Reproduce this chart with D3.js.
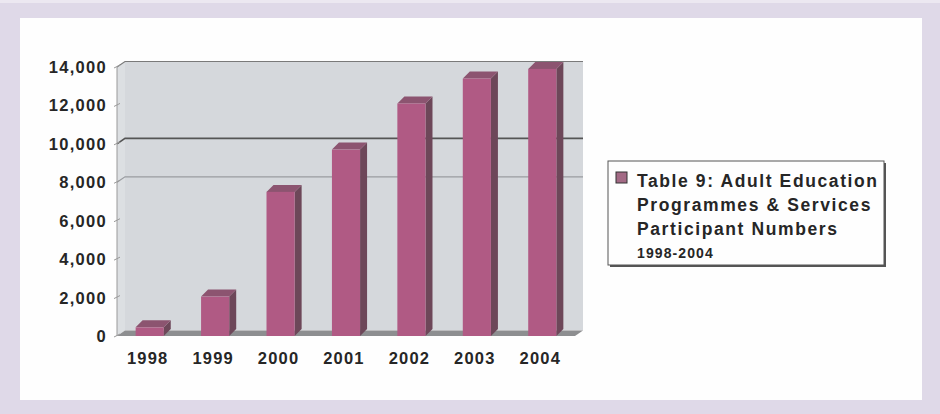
<!DOCTYPE html>
<html>
<head>
<meta charset="utf-8">
<script src="https://cdn.jsdelivr.net/npm/d3@7"></script>
<style>
  html, body { margin: 0; padding: 0; background: #dfd9e8; }
  svg { display: block; }
  text { font-family: "Liberation Sans", Arial, sans-serif; font-weight: bold; fill: #262626; }
</style>
</head>
<body>
<script>

// Chart data
const years = ["1998", "1999", "2000", "2001", "2002", "2003", "2004"]
const participants = [450, 2050, 7500, 9700, 12100, 13400, 13900]
const yTicks = [0, 2000, 4000, 6000, 8000, 10000, 12000, 14000]
const legendLines = ["Table 9: Adult Education", "Programmes & Services", "Participant Numbers"]
const legendYears = "1998-2004"

const width = 940
const height = 414

// 3d depth of the wall and of the columns
const wallDx = 8, wallDy = -5.5
const barDx = 7, barDy = -7

const svg = d3.select("body")
    .append("svg")
    .attr("width", width)
    .attr("height", height)

// lavender frame + white panel
svg.append("rect")
    .attr("width", width).attr("height", height)
    .style("fill", "#dfd9e8")
svg.append("rect")
    .attr("x", 0).attr("y", 0).attr("width", width).attr("height", 3)
    .style("fill", "#ece8f1")
svg.append("rect")
    .attr("x", 20).attr("y", 18).attr("width", 902).attr("height", 382)
    .style("fill", "#fefefe")

const x = d3.scaleBand()
    .domain(years)
    .range([117, 575])
    .paddingInner(0.57)
    .paddingOuter(0.285)

const y = d3.scaleLinear()
    .domain([0, 14000])
    .range([336, 67])

const x0 = x.range()[0], x1 = x.range()[1]
const yTop = y(14000), yBot = y(0)

const line = d3.line()

// back wall
svg.append("path")
    .attr("d", line([[x0 + wallDx, yTop + wallDy], [x1 + wallDx, yTop + wallDy],
                     [x1 + wallDx, yBot + wallDy], [x0 + wallDx, yBot + wallDy]]) + "Z")
    .style("fill", "#d5d8dc")

// left side wall
svg.append("path")
    .attr("d", line([[x0, yTop], [x0 + wallDx, yTop + wallDy],
                     [x0 + wallDx, yBot + wallDy], [x0, yBot]]) + "Z")
    .style("fill", "#dcdfe2")

// gridlines on the wall (scan only shows a few of them)
const gridStyle = {14000: "#7a7a7a", 10000: "#555", 8000: "#9a9ca0"}
svg.append("g").selectAll("path")
    .data(yTicks.filter(d => gridStyle[d]))
    .join("path")
    .attr("d", d => line([[x0, y(d)], [x0 + wallDx, y(d) + wallDy], [x1 + wallDx, y(d) + wallDy]]))
    .style("fill", "none")
    .style("stroke", d => gridStyle[d])
    .style("stroke-width", d => d === 10000 ? 1.6 : 1.2)

// floor
svg.append("path")
    .attr("d", line([[x0, yBot], [x1, yBot], [x1 + wallDx, yBot + wallDy], [x0 + wallDx, yBot + wallDy]]) + "Z")
    .style("fill", "#8d8e90")

// y axis line + little 3d ticks
svg.append("line")
    .attr("x1", x0).attr("x2", x0)
    .attr("y1", yTop).attr("y2", yBot)
    .style("stroke", "#9a9a9a")
svg.append("g").selectAll("line")
    .data(yTicks)
    .join("line")
    .attr("x1", x0 - 3).attr("x2", x0 + 3)
    .attr("y1", d => y(d) + 1).attr("y2", d => y(d) - 2)
    .style("stroke", "#9a9a9a")

// columns
const bw = x.bandwidth()
const bars = svg.append("g").selectAll("g")
    .data(years.map((yr, i) => ({year: yr, value: participants[i]})))
    .join("g")

// side face
bars.append("path")
    .attr("d", d => {
        const xr = x(d.year) + bw
        return line([[xr, y(d.value)], [xr + barDx, y(d.value) + barDy],
                     [xr + barDx, yBot + barDy], [xr, yBot]]) + "Z"
    })
    .style("fill", "#6d4759")

// top face
bars.append("path")
    .attr("d", d => {
        const xl = x(d.year)
        return line([[xl, y(d.value)], [xl + barDx, y(d.value) + barDy],
                     [xl + bw + barDx, y(d.value) + barDy], [xl + bw, y(d.value)]]) + "Z"
    })
    .style("fill", "#8c5470")

// front face
bars.append("rect")
    .attr("x", d => x(d.year))
    .attr("y", d => y(d.value))
    .attr("width", bw)
    .attr("height", d => yBot - y(d.value))
    .style("fill", "#b05a84")

// y labels
svg.append("g").selectAll("text")
    .data(yTicks)
    .join("text")
    .attr("x", 107)
    .attr("y", d => y(d))
    .attr("dy", "0.36em")
    .attr("text-anchor", "end")
    .style("font-size", "16.5px")
    .style("letter-spacing", "1.3px")
    .text(d => d3.format(",")(d))

// x labels
svg.append("g").selectAll("text")
    .data(years)
    .join("text")
    .attr("x", d => x(d) + bw / 2 - 2)
    .attr("y", 364)
    .attr("text-anchor", "middle")
    .style("font-size", "16.5px")
    .style("letter-spacing", "1.2px")
    .text(d => d)

// legend
const lg = svg.append("g").attr("transform", "translate(608,161)")
lg.append("rect")
    .attr("x", 2).attr("y", 2).attr("width", 276).attr("height", 104)
    .style("fill", "#555")
lg.append("rect")
    .attr("width", 276).attr("height", 104)
    .style("fill", "#fefefe")
    .style("stroke", "#555")
    .style("stroke-width", 1)
lg.append("rect")
    .attr("x", 8).attr("y", 11).attr("width", 11).attr("height", 11)
    .style("fill", "#a36a85")
    .style("stroke", "#333")
lg.selectAll("text.l")
    .data(legendLines)
    .join("text")
    .attr("class", "l")
    .attr("x", 29)
    .attr("y", (d, i) => 26 + i * 24)
    .style("font-size", "17.5px")
    .style("letter-spacing", "1.6px")
    .text(d => d)
lg.append("text")
    .attr("x", 29)
    .attr("y", 97)
    .style("font-size", "14px")
    .style("letter-spacing", "1.1px")
    .text(legendYears)

</script>
</body>
</html>
